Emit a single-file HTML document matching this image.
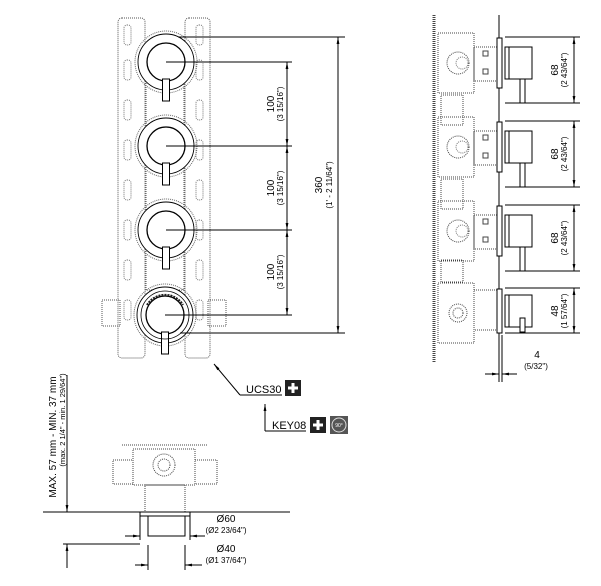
<!DOCTYPE html>
<html><head><meta charset="utf-8"><style>
html,body{margin:0;padding:0;background:#fff}
svg{display:block;font-family:"Liberation Sans",sans-serif}
</style></head><body>
<svg width="601" height="586" viewBox="0 0 601 586" xmlns="http://www.w3.org/2000/svg">
<defs>
<marker id="a" viewBox="0 0 10 10" refX="10" refY="5" markerWidth="7" markerHeight="7" orient="auto-start-reverse"><path d="M0,3 L10,5 L0,7z" fill="#000"/></marker>
<g id="knob">
 <circle r="31" fill="none" stroke="#666" stroke-width="1" stroke-dasharray="1,1"/>
 <circle r="28" fill="#fff" stroke="#000" stroke-width="0.9"/>
 <circle r="19" fill="#fff" stroke="#000" stroke-width="1.3"/>
 <rect x="-3.5" y="17" width="7" height="22" fill="#fff" stroke="#000" stroke-width="1"/>
</g>
<g id="side">
 <rect x="438" y="-30" width="36" height="60" fill="none" stroke="#444" stroke-dasharray="1,1"/>
 <circle cx="458" cy="0" r="11" fill="none" stroke="#444" stroke-dasharray="1,1"/>
 <circle cx="462" cy="0" r="6" fill="none" stroke="#777" stroke-dasharray="1,1"/>
 <rect x="474" y="-16" width="24" height="34" fill="none" stroke="#444" stroke-dasharray="1,1"/>
 <rect x="483" y="-12" width="5" height="5" fill="none" stroke="#444"/>
 <rect x="483" y="6" width="5" height="5" fill="none" stroke="#444"/>
 <rect x="497" y="-25" width="5" height="50" fill="#fff" stroke="#000"/>
 <rect x="505" y="-16" width="27" height="32" fill="#fff" stroke="#000"/>
 <line x1="509" y1="-16" x2="509" y2="16" stroke="#000"/>
 <rect x="520" y="16" width="5" height="24" fill="#fff" stroke="#000"/>
</g>
</defs>
<g stroke="#555" fill="none" stroke-dasharray="1,1">
 <rect x="118" y="18" width="27" height="340" rx="4"/>
 <rect x="185" y="18" width="25" height="340" rx="4"/>
 <rect x="146" y="80" width="38" height="210"/>
 <rect x="102" y="300" width="18" height="26"/>
 <rect x="208" y="300" width="18" height="26"/>
</g>
<g stroke="#777" fill="none" stroke-dasharray="1,1">
 <rect x="124" y="25" width="7" height="20" rx="3"/><rect x="124" y="60" width="7" height="20" rx="3"/><rect x="124" y="100" width="7" height="20" rx="3"/><rect x="124" y="140" width="7" height="20" rx="3"/><rect x="124" y="180" width="7" height="20" rx="3"/><rect x="124" y="220" width="7" height="20" rx="3"/><rect x="124" y="260" width="7" height="20" rx="3"/><rect x="124" y="300" width="7" height="20" rx="3"/>
 <rect x="196" y="25" width="7" height="20" rx="3"/><rect x="196" y="60" width="7" height="20" rx="3"/><rect x="196" y="100" width="7" height="20" rx="3"/><rect x="196" y="140" width="7" height="20" rx="3"/><rect x="196" y="180" width="7" height="20" rx="3"/><rect x="196" y="220" width="7" height="20" rx="3"/><rect x="196" y="260" width="7" height="20" rx="3"/><rect x="196" y="300" width="7" height="20" rx="3"/>
</g>
<use href="#knob" x="166" y="62"/>
<use href="#knob" x="166" y="146"/>
<use href="#knob" x="166" y="230"/>
<use href="#knob" x="165" y="315"/>
<circle cx="165" cy="315" r="24" fill="none" stroke="#000" stroke-width="0.8"/>
<path d="M147 305 A21 21 0 0 1 183 305" fill="none" stroke="#222" stroke-width="2" stroke-dasharray="2,1"/>
<g stroke="#000" stroke-width="1" fill="none">
 <line x1="166" y1="62" x2="292" y2="62"/><line x1="166" y1="146" x2="292" y2="146"/>
 <line x1="166" y1="230" x2="292" y2="230"/><line x1="165" y1="315" x2="292" y2="315"/>
 <line x1="178" y1="37" x2="345" y2="37"/><line x1="180" y1="333" x2="345" y2="333"/>
 <line x1="287" y1="62" x2="287" y2="146" marker-start="url(#a)" marker-end="url(#a)"/>
 <line x1="287" y1="146" x2="287" y2="230" marker-start="url(#a)" marker-end="url(#a)"/>
 <line x1="287" y1="230" x2="287" y2="315" marker-start="url(#a)" marker-end="url(#a)"/>
 <line x1="338" y1="37" x2="338" y2="333" marker-start="url(#a)" marker-end="url(#a)"/>
</g>
<g font-size="10" fill="#000">
 <text transform="translate(274,104) rotate(-90)" text-anchor="middle">100</text>
 <text transform="translate(283,104) rotate(-90)" text-anchor="middle" font-size="8">(3 15/16")</text>
 <text transform="translate(274,188) rotate(-90)" text-anchor="middle">100</text>
 <text transform="translate(283,188) rotate(-90)" text-anchor="middle" font-size="8">(3 15/16")</text>
 <text transform="translate(274,272) rotate(-90)" text-anchor="middle">100</text>
 <text transform="translate(283,272) rotate(-90)" text-anchor="middle" font-size="8">(3 15/16")</text>
 <text transform="translate(322,185) rotate(-90)" text-anchor="middle">360</text>
 <text transform="translate(332,185) rotate(-90)" text-anchor="middle" font-size="8">(1' - 2 11/64")</text>
</g>
<!-- side view -->
<line x1="434" y1="15" x2="434" y2="362" stroke="#444" stroke-width="3" stroke-dasharray="1,1"/>
<line x1="499" y1="15" x2="499" y2="382" stroke="#000"/>
<use href="#side" y="63"/><use href="#side" y="147"/><use href="#side" y="231"/>
<g stroke="#444" fill="none" stroke-dasharray="1,1">
 <rect x="441" y="95" width="22" height="30"/><rect x="441" y="179" width="22" height="30"/><rect x="441" y="260" width="22" height="22"/>
 <rect x="438" y="283" width="36" height="60"/><rect x="474" y="290" width="24" height="40"/>
 <circle cx="458" cy="313" r="9"/><circle cx="458" cy="313" r="5"/>
</g>
<rect x="497" y="289" width="5" height="44" fill="#fff" stroke="#000"/>
<rect x="505" y="295" width="27" height="32" fill="#fff" stroke="#000"/>
<line x1="509" y1="295" x2="509" y2="327" stroke="#000"/>
<rect x="520" y="318" width="5" height="14" fill="#fff" stroke="#000"/>
<g stroke="#000" fill="none">
 <line x1="505" y1="37" x2="580" y2="37"/><line x1="505" y1="103" x2="580" y2="103"/>
 <line x1="505" y1="121" x2="580" y2="121"/><line x1="505" y1="187" x2="580" y2="187"/>
 <line x1="505" y1="205" x2="580" y2="205"/><line x1="505" y1="271" x2="580" y2="271"/>
 <line x1="505" y1="288" x2="580" y2="288"/><line x1="505" y1="333" x2="580" y2="333"/>
 <line x1="574" y1="37" x2="574" y2="103" marker-start="url(#a)" marker-end="url(#a)"/>
 <line x1="574" y1="121" x2="574" y2="187" marker-start="url(#a)" marker-end="url(#a)"/>
 <line x1="574" y1="205" x2="574" y2="271" marker-start="url(#a)" marker-end="url(#a)"/>
 <line x1="574" y1="288" x2="574" y2="333" marker-start="url(#a)" marker-end="url(#a)"/>
 <line x1="502" y1="335" x2="502" y2="382"/>
 <line x1="485" y1="374" x2="499" y2="374" marker-end="url(#a)"/>
 <line x1="517" y1="374" x2="502" y2="374" marker-end="url(#a)"/>
</g>
<g font-size="10">
 <text transform="translate(558,70) rotate(-90)" text-anchor="middle">68</text>
 <text transform="translate(567,70) rotate(-90)" text-anchor="middle" font-size="8">(2 43/64")</text>
 <text transform="translate(558,154) rotate(-90)" text-anchor="middle">68</text>
 <text transform="translate(567,154) rotate(-90)" text-anchor="middle" font-size="8">(2 43/64")</text>
 <text transform="translate(558,238) rotate(-90)" text-anchor="middle">68</text>
 <text transform="translate(567,238) rotate(-90)" text-anchor="middle" font-size="8">(2 43/64")</text>
 <text transform="translate(558,311) rotate(-90)" text-anchor="middle">48</text>
 <text transform="translate(567,311) rotate(-90)" text-anchor="middle" font-size="8">(1 57/64")</text>
 <text x="537" y="358" text-anchor="middle">4</text>
 <text x="536" y="369" text-anchor="middle" font-size="8">(5/32")</text>
</g>
<!-- leaders -->
<g stroke="#000" fill="none">
 <line x1="240" y1="395" x2="214" y2="364" marker-end="url(#a)"/>
 <line x1="240" y1="395" x2="282" y2="395"/>
 <line x1="265" y1="431" x2="265" y2="404" marker-end="url(#a)"/>
 <line x1="265" y1="431" x2="306" y2="431"/>
</g>
<text x="246" y="393" font-size="11">UCS30</text>
<rect x="285" y="380" width="16" height="16" fill="#222"/>
<path d="M293 383v10M288 388h10" stroke="#fff" stroke-width="3"/>
<text x="272" y="429" font-size="11">KEY08</text>
<rect x="310" y="417" width="16" height="16" fill="#222"/>
<path d="M318 420v10M313 425h10" stroke="#fff" stroke-width="3"/>
<rect x="330" y="416" width="18" height="18" fill="#555"/>
<circle cx="339" cy="425" r="7" fill="none" stroke="#ddd" stroke-width="1"/>
<text x="339" y="427" font-size="5" fill="#fff" text-anchor="middle">90°</text>
<!-- bottom view -->
<g stroke="#444" fill="none" stroke-dasharray="1,1">
 <line x1="122" y1="445" x2="208" y2="445"/>
 <rect x="133" y="449" width="62" height="36"/>
 <rect x="113" y="460" width="20" height="24"/><rect x="195" y="460" width="22" height="24"/>
 <circle cx="164" cy="465" r="11"/><circle cx="164" cy="465" r="6"/>
 <rect x="145" y="485" width="40" height="27"/>
</g>
<g stroke="#000" fill="none">
 <line x1="43" y1="512" x2="290" y2="512"/>
 <rect x="140" y="512" width="50" height="4" fill="#fff"/>
 <rect x="148" y="516" width="37" height="20" fill="#fff"/>
 <line x1="67" y1="375" x2="67" y2="512" marker-end="url(#a)"/>
 <line x1="67" y1="568" x2="67" y2="544" marker-end="url(#a)"/>
 <line x1="63" y1="544" x2="140" y2="544"/>
 <line x1="140" y1="516" x2="140" y2="540"/><line x1="190" y1="516" x2="190" y2="540"/>
 <line x1="125" y1="536" x2="140" y2="536" marker-end="url(#a)"/>
 <line x1="205" y1="536" x2="190" y2="536" marker-end="url(#a)"/>
 <line x1="148" y1="545" x2="148" y2="570"/><line x1="185" y1="545" x2="185" y2="570"/>
 <line x1="135" y1="565" x2="148" y2="565" marker-end="url(#a)"/>
 <line x1="202" y1="565" x2="185" y2="565" marker-end="url(#a)"/>
</g>
<g font-size="10">
 <text transform="translate(56,437) rotate(-90)" text-anchor="middle">MAX. 57 mm - MIN. 37 mm</text>
 <text transform="translate(65,420) rotate(-90)" text-anchor="middle" font-size="7.5">(max. 2 1/4" - min. 1 29/64")</text>
 <text x="226" y="522" text-anchor="middle">Ø60</text>
 <text x="226" y="533" text-anchor="middle" font-size="8">(Ø2 23/64")</text>
 <text x="226" y="552" text-anchor="middle">Ø40</text>
 <text x="226" y="563" text-anchor="middle" font-size="8">(Ø1 37/64")</text>
</g>
</svg>
</body></html>
